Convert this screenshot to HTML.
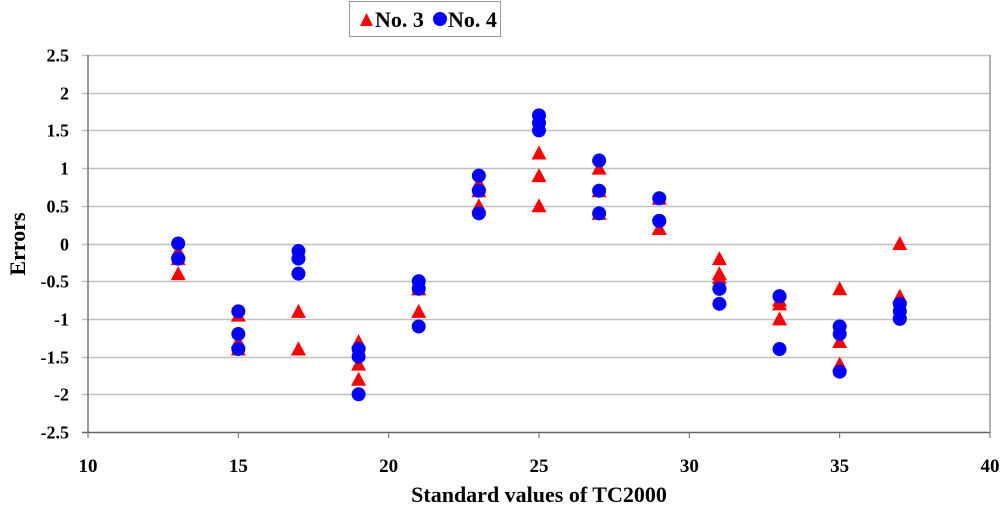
<!DOCTYPE html>
<html><head><meta charset="utf-8"><style>
body{margin:0;background:#fff}
svg{display:block;font-family:"Liberation Serif",serif;font-weight:bold}
</style></head><body>
<svg id="c" width="1000" height="510">
<g id="grid"></g><g id="axes"></g><g id="marks"></g>
<g>
<rect x="349.5" y="1.5" width="151" height="35" fill="#fff" stroke="#999"/>
<polygon points="360,26 366.5,13 373,26" fill="#f00"/>
<text x="375" y="27" font-size="22">No. 3</text>
<circle cx="440" cy="19" r="7" fill="#00f"/>
<text x="448" y="27" font-size="22">No. 4</text>
</g>
<text x="0" y="0" font-size="22" text-anchor="middle" transform="translate(25,244) rotate(-90)">Errors</text>
<text x="539" y="502" font-size="22" text-anchor="middle">Standard values of TC2000</text>
</svg>
<script>
const xTicks=[10,15,20,25,30,35,40];
const yTicks=[2.5,2,1.5,1,0.5,0,-0.5,-1,-1.5,-2,-2.5];
const xs3=[13,13,13,15,15,15,17,17,17,19,19,19,21,21,21,23,23,23,25,25,25,27,27,27,29,29,29,31,31,31,33,33,33,35,35,35,37,37,37];
const no3=[-0.1,-0.2,-0.4,-0.95,-1.3,-1.4,-0.9,-1.4,-1.4,-1.3,-1.6,-1.8,-0.6,-0.9,-0.6,0.8,0.5,0.7,1.2,0.9,0.5,1.0,0.7,0.4,0.6,0.2,0.2,-0.2,-0.4,-0.45,-0.8,-1.0,-0.75,-0.6,-1.3,-1.6,0,-0.7,-0.9];
const xs4=[13,13,13,15,15,15,17,17,17,19,19,19,21,21,21,23,23,23,25,25,25,27,27,27,29,29,29,31,31,31,33,33,33,35,35,35,37,37,37];
const no4=[0,-0.2,-0.2,-0.9,-1.2,-1.4,-0.1,-0.2,-0.4,-1.4,-1.5,-2.0,-0.5,-0.6,-1.1,0.9,0.7,0.4,1.7,1.6,1.5,1.1,0.7,0.4,0.6,0.3,0.3,-0.6,-0.8,-0.6,-0.7,-1.4,-0.7,-1.1,-1.2,-1.7,-0.8,-0.9,-1.0];
const X0=88,X1=990,Y0=432,Y1=55;
const sx=v=>X0+(v-10)/30*(X1-X0);
const sy=v=>Y0-(v+2.5)/5*(Y0-Y1);
const NS="http://www.w3.org/2000/svg";
function mk(t,a,p){const e=document.createElementNS(NS,t);for(const k in a)e.setAttribute(k,a[k]);document.getElementById(p).appendChild(e);return e;}
yTicks.forEach(v=>{
 const y=Math.round(sy(v))+0.5;
 const g=mk('line',{x1:X0-6,x2:X1,y1:y,y2:y,stroke:v===-2.5?'#666':'#c0c0c0','stroke-width':1.5},'grid');
 
 
 const t=mk('text',{x:69,y:y+6,'font-size':18,'text-anchor':'end'},'axes');t.textContent=v;
 
 
});
xTicks.forEach(v=>{
 const x=sx(v);
 const l=mk('line',{x1:x,x2:x,y1:Y0,y2:Y0+6,stroke:'#666'},'axes');
 
 
 const t=mk('text',{x:x,y:472,'font-size':19,'text-anchor':'middle'},'axes');t.textContent=v;
 
 
});
const la=mk('line',{x1:X0,x2:X0,y1:Y1,y2:Y0,stroke:'#777','stroke-width':1.5},'axes');


const ra=mk('line',{x1:X1,x2:X1,y1:Y1,y2:Y0,stroke:'#999','stroke-width':1.5},'axes');


no3.forEach((v,i)=>{
 const x=sx(xs3[i]),y=sy(v);
 const p=mk('polygon',{points:`${x-7.5},${y+6.5} ${x},${y-7.5} ${x+7.5},${y+6.5}`,fill:'#f00'},'marks');
 
 
});
no4.forEach((v,i)=>{
 const c=mk('circle',{cx:sx(xs4[i]),cy:sy(v),r:7,fill:'#00f'},'marks');
 
 
});
</script>
</body></html>
